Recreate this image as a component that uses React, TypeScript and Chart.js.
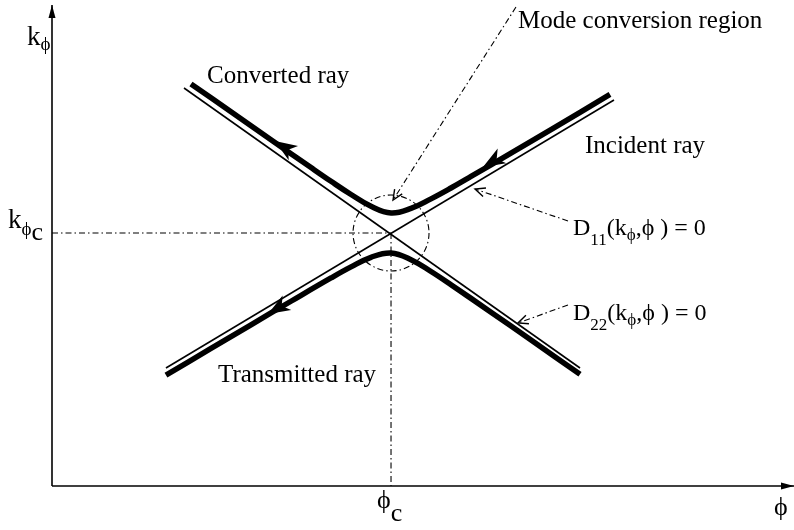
import { useEffect, useRef } from "react";
import { Chart, registerables } from "chart.js";

Chart.register(...registerables);

// ---- Data (arbitrary units: phi on x, k_phi on y) ----
const PHI_C = 45.69;
const K_PHI_C = 52.6;

const xAxisPts = [{ x: 0, y: 0 }, { x: 100, y: 0 }];
const yAxisPts = [{ x: 0, y: 0 }, { x: 0, y: 100 }];

const guideH = [{ x: 0, y: K_PHI_C }, { x: PHI_C, y: K_PHI_C }];
const guideV = [{ x: PHI_C, y: K_PHI_C }, { x: PHI_C, y: 0 }];

// thin dispersion curves D11 = 0 and D22 = 0
const d22Line = [{ x: 17.79, y: 82.74 }, { x: 71.16, y: 24.53 }];
const d11Line = [{ x: 15.36, y: 24.53 }, { x: 75.74, y: 80.25 }];

// thick ray branches
const upperX = [18.73, 24.12, 29.51, 34.91, 37.6, 40.3, 42.99, 45.69, 48.38, 51.08, 53.77, 56.47, 61.86, 67.25, 75.2];
const upperY = [83.6, 77.8, 72.0, 66.2, 63.35, 60.6, 58.15, 56.76, 57.7, 59.7, 61.95, 64.35, 69.2, 74.1, 81.4];
const lowerX = [15.36, 21.43, 26.82, 32.21, 37.6, 40.3, 42.99, 45.69, 48.38, 51.08, 53.77, 59.16, 64.56, 71.16];
const lowerY = [23.04, 28.59, 33.52, 38.41, 43.25, 45.55, 47.55, 48.44, 47.05, 44.6, 41.85, 36.14, 30.35, 23.21];

// arrows on rays: [tail, tip]
const rayArrows = [
  [{ x: 32.31, y: 69.43 }, { x: 30.05, y: 71.72 }], // converted
  [{ x: 60.38, y: 68.39 }, { x: 58.09, y: 66.31 }], // incident
  [{ x: 31.4, y: 37.85 }, { x: 29.11, y: 35.77 }], // transmitted
];

// annotation pointers: [start, tip]
const pointerMode = [{ x: 62.53, y: 99.58 }, { x: 45.96, y: 59.46 }];
const pointerD11 = [{ x: 69.54, y: 55.09 }, { x: 57.01, y: 61.75 }];
const pointerD22 = [{ x: 69.54, y: 37.63 }, { x: 62.8, y: 33.89 }];

const FONT = "'Liberation Serif', 'DejaVu Serif', serif";

type Seg = { t: string; size: number; dy?: number; gap?: number };
const labels: { x: number; y: number; segs: Seg[] }[] = [
  { x: 62.8, y: 95.22, segs: [{ t: "Mode conversion region", size: 25 }] },
  { x: 20.89, y: 83.78, segs: [{ t: "Converted ray", size: 25 }] },
  { x: 71.83, y: 69.23, segs: [{ t: "Incident ray", size: 25 }] },
  { x: 22.37, y: 21.62, segs: [{ t: "Transmitted ray", size: 25 }] },
  {
    x: 70.22, y: 52.18,
    segs: [
      { t: "D", size: 24 }, { t: "11", size: 17, dy: 10 }, { t: "(k", size: 24 },
      { t: "ϕ", size: 17, dy: 5 }, { t: ",ϕ ) = 0", size: 24 },
    ],
  },
  {
    x: 70.22, y: 34.51,
    segs: [
      { t: "D", size: 24 }, { t: "22", size: 17, dy: 10 }, { t: "(k", size: 24 },
      { t: "ϕ", size: 17, dy: 5 }, { t: ",ϕ ) = 0", size: 24 },
    ],
  },
  { x: -3.37, y: 91.68, segs: [{ t: "k", size: 27 }, { t: "ϕ", size: 19, dy: 5 }] },
  { x: -5.93, y: 53.64, segs: [{ t: "k", size: 27 }, { t: "ϕ", size: 19, dy: 7 }, { t: "c", size: 26, dy: 12 }] },
  { x: 43.8, y: -4.57, segs: [{ t: "ϕ", size: 26 }, { t: "c", size: 26, dy: 13 }] },
  { x: 97.3, y: -6.03, segs: [{ t: "ϕ", size: 26 }] },
];

const toPts = (xs: number[], ys: number[]) => xs.map((x, i) => ({ x, y: ys[i] }));

const annotPlugin = {
  id: "annot",
  afterDatasetsDraw(chart: any) {
    const { ctx, scales } = chart;
    const sx = (v: number) => scales.x.getPixelForValue(v);
    const sy = (v: number) => scales.y.getPixelForValue(v);
    ctx.save();
    ctx.fillStyle = "#000";
    ctx.strokeStyle = "#000";

    // dashed circle around mode-conversion region
    ctx.beginPath();
    ctx.setLineDash([6, 3, 1.5, 3]);
    ctx.lineWidth = 1.1;
    ctx.arc(sx(PHI_C), sy(K_PHI_C), 38, 0, Math.PI * 2);
    ctx.stroke();
    ctx.setLineDash([]);

    const filledArrow = (tx: number, ty: number, ang: number, len: number, hw: number, notch: number) => {
      const c = Math.cos(ang), s = Math.sin(ang);
      const bx = tx - c * len, by = ty - s * len;
      const nx = tx - c * len * notch, ny = ty - s * len * notch;
      ctx.beginPath();
      ctx.moveTo(tx, ty);
      ctx.lineTo(bx - s * hw, by + c * hw);
      ctx.lineTo(nx, ny);
      ctx.lineTo(bx + s * hw, by - c * hw);
      ctx.closePath();
      ctx.fill();
    };
    const openArrow = (tx: number, ty: number, ang: number, len: number, spread: number) => {
      ctx.beginPath();
      ctx.lineWidth = 1.4;
      ctx.moveTo(tx - Math.cos(ang - spread) * len, ty - Math.sin(ang - spread) * len);
      ctx.lineTo(tx, ty);
      ctx.lineTo(tx - Math.cos(ang + spread) * len, ty - Math.sin(ang + spread) * len);
      ctx.stroke();
    };

    // axis arrows
    filledArrow(sx(0), sy(100), -Math.PI / 2, 13, 3.5, 1);
    filledArrow(sx(100), sy(0), 0, 13, 3.5, 1);

    // ray arrows
    for (const [a, b] of rayArrows) {
      const ang = Math.atan2(sy(b.y) - sy(a.y), sx(b.x) - sx(a.x));
      filledArrow(sx(b.x), sy(b.y), ang, 22, 8.5, 0.72);
    }

    // pointer arrow heads
    for (const [a, b] of [pointerMode, pointerD11, pointerD22]) {
      const ang = Math.atan2(sy(b.y) - sy(a.y), sx(b.x) - sx(a.x));
      openArrow(sx(b.x), sy(b.y), ang, 11, 0.42);
    }

    // labels
    ctx.textBaseline = "alphabetic";
    ctx.textAlign = "left";
    for (const l of labels) {
      let cx = sx(l.x);
      const by = sy(l.y);
      for (const sg of l.segs) {
        ctx.font = `${sg.size}px ${FONT}`;
        ctx.fillText(sg.t, cx, by + (sg.dy || 0));
        cx += ctx.measureText(sg.t).width + (sg.gap || 0);
      }
    }
    ctx.restore();
  },
};

export default function App() {
  const ref = useRef<HTMLCanvasElement | null>(null);
  useEffect(() => {
    if (!ref.current) return;
    const base = { pointRadius: 0, borderColor: "#000", clip: false as any, tension: 0 };
    const dashDot = [6, 3, 1.5, 3];
    const chart = new Chart(ref.current, {
      type: "line",
      data: {
        datasets: [
          { ...base, data: xAxisPts, borderWidth: 1.6 },
          { ...base, data: yAxisPts, borderWidth: 1.6 },
          { ...base, data: guideH, borderWidth: 1.1, borderDash: dashDot },
          { ...base, data: guideV, borderWidth: 1.1, borderDash: dashDot },
          { ...base, data: d22Line, borderWidth: 1.6 },
          { ...base, data: d11Line, borderWidth: 1.6 },
          { ...base, data: toPts(upperX, upperY), borderWidth: 5.5, tension: 0.4 },
          { ...base, data: toPts(lowerX, lowerY), borderWidth: 5.5, tension: 0.4 },
          { ...base, data: pointerMode, borderWidth: 1.1, borderDash: dashDot },
          { ...base, data: pointerD11, borderWidth: 1.1, borderDash: dashDot },
          { ...base, data: pointerD22, borderWidth: 1.1, borderDash: dashDot },
        ] as any,
      },
      options: {
        responsive: false,
        animation: false,
        layout: { padding: { left: 52, right: 0, top: 5, bottom: 44 } },
        plugins: { legend: { display: false }, tooltip: { enabled: false } },
        scales: {
          x: { type: "linear", min: 0, max: 100, display: false },
          y: { type: "linear", min: 0, max: 100, display: false },
        },
      },
      plugins: [annotPlugin],
    });
    return () => chart.destroy();
  }, []);
  return (
    <div style={{ position: "fixed", left: 0, top: 0, background: "#fff" }}>
      <canvas ref={ref} width={794} height={530} style={{ display: "block" }} />
    </div>
  );
}
